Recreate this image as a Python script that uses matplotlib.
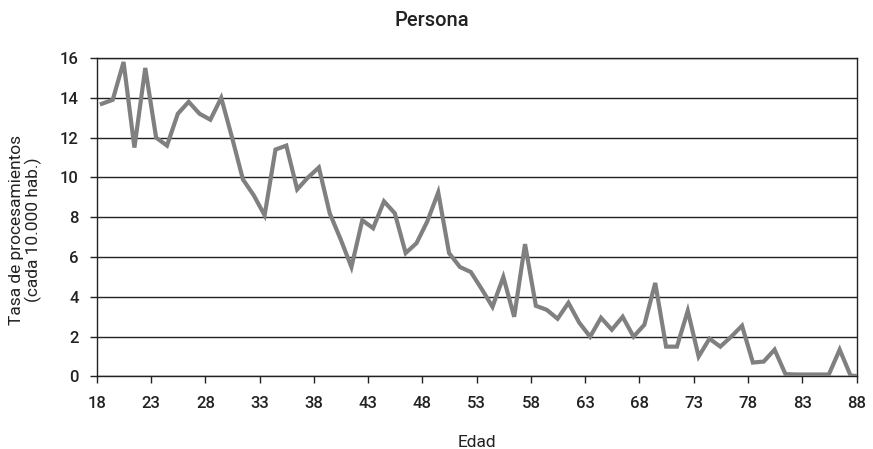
#!/usr/bin/env python3
import numpy as np
import matplotlib
matplotlib.use('Agg')
import matplotlib.pyplot as plt

plt.rcParams['font.family'] = ['Roboto', 'DejaVu Sans']
plt.rcParams['font.size'] = 12
plt.rcParams['font.weight'] = 'medium'

# edades 18..88 y tasa por cada 10.000 habitantes
edad = list(range(18, 89))
tasa = [13.7, 13.9, 15.8, 11.5, 15.5, 12.0, 11.6, 13.2, 13.8, 13.2,
        12.9, 14.0, 12.0, 9.9, 9.1, 8.1, 11.4, 11.6, 9.4, 10.0,
        10.5, 8.2, 6.9, 5.5, 7.85, 7.45, 8.8, 8.2, 6.2, 6.7,
        7.8, 9.25, 6.2, 5.5, 5.25, 4.4, 3.5, 5.0, 3.0, 6.65,
        3.55, 3.35, 2.9, 3.7, 2.7, 2.0, 2.95, 2.35, 3.0, 2.0,
        2.6, 4.7, 1.5, 1.5, 3.3, 1.0, 1.9, 1.5, 2.0, 2.55,
        0.7, 0.75, 1.35, 0.12, 0.1, 0.1, 0.1, 0.1, 1.35, 0.05,
        0.0]
xticks = list(range(18, 89, 5))
yticks = list(range(0, 17, 2))

fig = plt.figure(figsize=(8.73, 4.49), dpi=100)
ax = fig.add_axes([0.1111, 0.1615, 0.8700, 0.7093])

# categorias centradas entre marcas (como en Excel)
x = np.array(edad) + 0.45
ax.plot(x, tasa, color='#808080', linewidth=3.0, solid_joinstyle='miter',
        zorder=3, clip_on=True)

ax.set_xlim(18, 88)
ax.set_ylim(0, 16)
ax.set_xticks(xticks)
ax.set_yticks(yticks)
ax.yaxis.grid(True, color='#222222', linewidth=1.0)
ax.set_axisbelow(True)
for s in ['left', 'right', 'bottom', 'top']:
    ax.spines[s].set_color('#222222')
    ax.spines[s].set_linewidth(1.0)
ax.tick_params(axis='both', direction='out', length=5, width=1.0,
               color='#222222', labelsize=12, labelcolor='#222222')
ax.tick_params(axis='x', pad=9)
ax.tick_params(axis='y', pad=8)

ax.set_xlabel('Edad', fontsize=12.5, color='#222222', labelpad=17)
ax.set_ylabel('Tasa de procesamientos\n(cada 10.000 hab.)', fontsize=12.5,
              color='#222222', linespacing=1.05)
ax.yaxis.set_label_coords(-0.072, 0.46)
fig.text(0.495, 0.955, 'Persona', fontsize=14.5, ha='center', va='center',
         color='#222222')

plt.savefig('out.png', dpi=100)
plt.close()
